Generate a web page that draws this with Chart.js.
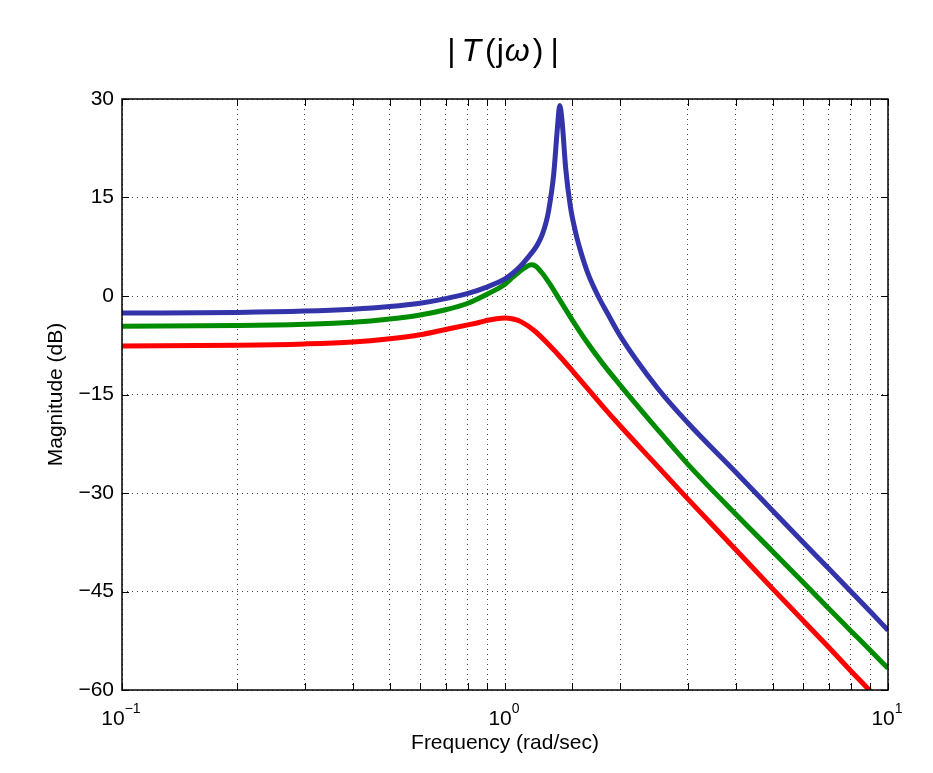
<!DOCTYPE html>
<html>
<head>
<meta charset="utf-8">
<script src="https://cdn.jsdelivr.net/npm/chart.js@4"></script>
<style>
  body { margin: 0; background: #fff; }
  canvas { display: block; }
</style>
</head>
<body>
<canvas id="bodeChart" width="933" height="773"></canvas>
<script>
// values (frequency in rad/sec, magnitude in dB)
const blueFreq = [0.1, 0.2, 0.3, 0.4, 0.5, 0.6, 0.7, 0.8, 0.9, 1.0, 1.05, 1.1, 1.16, 1.19, 1.22, 1.25, 1.28, 1.3, 1.34, 1.37, 1.39, 1.41, 1.44, 1.48, 1.53, 1.58, 1.65, 1.75, 1.85, 2, 2.5, 3, 4, 5, 6, 7, 8, 9, 10];
const blueMag = [-2.6, -2.5, -2.3, -2.0, -1.6, -1.1, -0.4, 0.4, 1.4, 2.6, 3.5, 4.6, 6.2, 7.0, 8.0, 9.3, 11.2, 13.0, 18.5, 25.5, 29.0, 26.5, 19.5, 13.8, 9.6, 6.6, 3.3, 0.0, -2.6, -6.1, -14.0, -19.3, -26.8, -32.7, -37.5, -41.5, -45.0, -48.1, -50.9];

const greenFreq = [0.1, 0.2, 0.3, 0.4, 0.5, 0.6, 0.7, 0.8, 0.9, 0.95, 1.0, 1.05, 1.1, 1.14, 1.17, 1.2, 1.25, 1.3, 1.4, 1.5, 1.6, 1.8, 2, 2.5, 3, 4, 5, 6, 7, 8, 9, 10];
const greenMag = [-4.6, -4.5, -4.3, -4.0, -3.5, -2.9, -2.1, -1.1, 0.3, 1.0, 1.8, 2.9, 3.9, 4.5, 4.75, 4.6, 3.5, 2.1, -0.9, -3.7, -6.2, -10.3, -13.6, -20.3, -25.6, -33.2, -38.9, -43.6, -47.6, -51.0, -54.0, -56.7];

const redFreq = [0.1, 0.2, 0.3, 0.4, 0.5, 0.6, 0.7, 0.8, 0.86, 0.9, 0.95, 1.0, 1.05, 1.1, 1.2, 1.3, 1.4, 1.5, 1.6, 1.8, 2, 2.5, 3, 4, 5, 6, 7, 8, 9];
const redMag = [-7.6, -7.5, -7.3, -7.0, -6.5, -5.9, -5.1, -4.4, -4.0, -3.7, -3.45, -3.35, -3.5, -3.9, -5.4, -7.4, -9.4, -11.4, -13.3, -16.8, -19.8, -25.9, -30.9, -38.6, -44.6, -49.4, -53.5, -57.1, -60.2];

const decadeValues = [0.1, 1, 10];
const decadeExponents = ['\u22121', '0', '1'];

const FONT = 'Liberation Sans, Arial, sans-serif';

function toPoints(freqs, mags) {
    return freqs.map((f, i) => ({x: f, y: mags[i]}));
}

function makeSeries(freqs, mags, color) {
    return {
        data: toPoints(freqs, mags),
        borderColor: color,
        borderWidth: 5,
        pointRadius: 0,
        cubicInterpolationMode: 'monotone',
        clip: 0
    };
}

// title, box, inward ticks and 10^n labels like the matlab figure
const matlabFrame = {
    id: 'matlabFrame',
    afterDatasetsDraw(chart) {
        const {ctx, chartArea: a, scales: {x, y}} = chart;
        ctx.save();
        ctx.strokeStyle = '#000';
        ctx.lineWidth = 1;
        ctx.beginPath();
        x.ticks.forEach(t => {
            const px = Math.round(x.getPixelForValue(t.value)) + 0.5;
            ctx.moveTo(px, a.bottom); ctx.lineTo(px, a.bottom - 7);
            ctx.moveTo(px, a.top); ctx.lineTo(px, a.top + 7);
        });
        y.ticks.forEach(t => {
            const py = Math.round(y.getPixelForValue(t.value)) + 0.5;
            ctx.moveTo(a.left, py); ctx.lineTo(a.left + 7, py);
            ctx.moveTo(a.right, py); ctx.lineTo(a.right - 7, py);
        });
        ctx.stroke();
        ctx.lineWidth = 1.5;
        ctx.strokeRect(a.left, a.top, a.right - a.left, a.bottom - a.top);

        // decade labels with superscript exponents
        ctx.fillStyle = '#000';
        ctx.textBaseline = 'alphabetic';
        ctx.textAlign = 'left';
        decadeValues.forEach((v, i) => {
            const px = x.getPixelForValue(v);
            ctx.font = '21px ' + FONT;
            const wBase = ctx.measureText('10').width;
            ctx.font = '14px ' + FONT;
            const wExp = ctx.measureText(decadeExponents[i]).width;
            const start = px - 1 - (wBase + wExp) / 2;
            ctx.font = '21px ' + FONT;
            ctx.fillText('10', start, 725);
            ctx.font = '14px ' + FONT;
            ctx.fillText(decadeExponents[i], start + wBase, 713);
        });

        // title |T(jω)|
        const parts = [
            {t: '|', it: false, gap: 6},
            {t: 'T', it: true, gap: 4},
            {t: '(', it: false, gap: 1},
            {t: 'j', it: false, gap: 1},
            {t: '\u03c9', it: true, gap: 3},
            {t: ')', it: false, gap: 7},
            {t: '|', it: false, gap: 0}
        ];
        let total = 0;
        parts.forEach(p => {
            ctx.font = (p.it ? 'italic ' : '') + '32px ' + FONT;
            p.w = ctx.measureText(p.t).width;
            total += p.w + p.gap;
        });
        let cx = 503 - total / 2;
        parts.forEach(p => {
            ctx.font = (p.it ? 'italic ' : '') + '32px ' + FONT;
            ctx.fillText(p.t, cx, 61);
            cx += p.w + p.gap;
        });
        ctx.restore();
    }
};

const ctx = document.getElementById('bodeChart').getContext('2d');
new Chart(ctx, {
    type: 'line',
    data: {
        datasets: [
            makeSeries(blueFreq, blueMag, 'rgb(51, 51, 170)'),
            makeSeries(greenFreq, greenMag, 'rgb(0, 140, 0)'),
            makeSeries(redFreq, redMag, 'rgb(255, 0, 0)')
        ]
    },
    options: {
        responsive: false,
        animation: false,
        devicePixelRatio: 1,
        layout: {padding: {top: 99, right: 45, bottom: 0, left: 0}},
        plugins: {legend: {display: false}, tooltip: {enabled: false}},
        scales: {
            x: {
                type: 'logarithmic',
                min: 0.1,
                max: 10,
                ticks: {display: false},
                grid: {color: 'rgba(0,0,0,0.75)', lineWidth: 1, drawTicks: false},
                border: {display: false, dash: [1, 4]},
                title: {
                    display: true,
                    text: 'Frequency (rad/sec)',
                    color: '#000',
                    font: {family: FONT, size: 21},
                    padding: {top: 0, bottom: 17}
                },
                afterFit: scale => { scale.height = 83; }
            },
            y: {
                type: 'linear',
                min: -60,
                max: 30,
                ticks: {
                    stepSize: 15,
                    padding: 8,
                    color: '#000',
                    font: {family: FONT, size: 21},
                    callback: v => String(v).replace('-', '\u2212')
                },
                grid: {color: 'rgba(0,0,0,0.75)', lineWidth: 1, drawTicks: false},
                border: {display: false, dash: [1, 4]},
                title: {
                    display: true,
                    text: 'Magnitude (dB)',
                    color: '#000',
                    font: {family: FONT, size: 21},
                    padding: {top: 44, bottom: 0}
                },
                afterFit: scale => { scale.width = 122; }
            }
        }
    },
    plugins: [matlabFrame]
});
</script>
</body>
</html>
